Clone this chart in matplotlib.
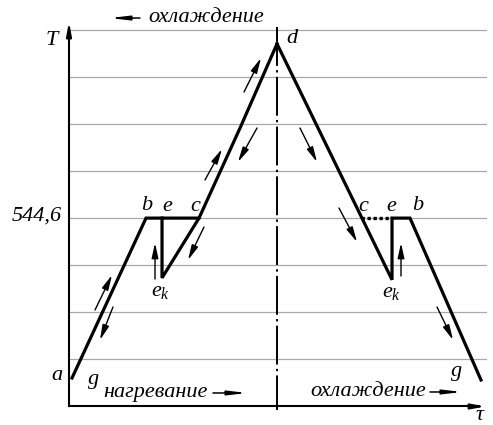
import matplotlib
matplotlib.use("Agg")
import matplotlib.pyplot as plt

plt.rcParams['font.family'] = ['Liberation Serif', 'DejaVu Serif']
plt.rcParams['mathtext.fontset'] = 'custom'
plt.rcParams['mathtext.it'] = 'Liberation Serif:italic'
plt.rcParams['mathtext.rm'] = 'Liberation Serif'

# temperature levels of the helper grid (in grid steps)
grid_levels = [1, 2, 3, 4, 5, 6, 7, 8]
t_melt = 4.0
t_melt_label = "544,6"

# heating branch: a -> b -> c -> d
heat_tau = [0.064, 1.635, 2.76, 3.63, 4.416]
heat_T = [0.605, 4.0, 4.0, 5.91, 7.70]
# undercooling loop on heating side: e -> e_k -> c
loop_tau = [1.975, 1.975, 2.76]
loop_T = [4.0, 2.73, 4.0]

# cooling branch: d -> e_k -> e -> b -> g
cool_tau = [4.416, 6.858, 6.858, 7.24, 8.747]
cool_T = [7.70, 2.69, 4.0, 4.0, 0.563]
# dotted part c -> e on cooling side
dot_tau = [6.20, 6.858]
dot_T = [4.0, 4.0]

tau_mid = 4.416

# small direction arrows: (tail tau, tail T, head tau, head T)
dir_arrows = [
    (0.552, 2.049, 0.913, 2.792),
    (0.934, 2.113, 0.658, 1.412),
    (1.826, 2.707, 1.826, 3.471),
    (2.866, 3.811, 2.527, 3.110),
    (2.887, 4.809, 3.248, 5.467),
    (3.715, 6.677, 4.076, 7.399),
    (3.992, 5.913, 3.588, 5.191),
    (4.904, 5.913, 5.265, 5.191),
    (5.732, 4.214, 6.115, 3.493),
    (7.049, 2.771, 7.049, 3.471),
    (7.813, 2.113, 8.153, 1.412),
]

fig = plt.figure(figsize=(4.93, 4.25), dpi=100)
ax = fig.add_axes([0, 0, 1, 1])
ax.set_xlim(-1.465, 9.002)
ax.set_ylim(-0.393, 8.631)
ax.axis('off')

# grid
for lv in grid_levels:
    ax.plot([0, 8.853], [lv, lv], color='#a8a8a8', lw=0.9, zorder=1)

# axes with arrows
ax.plot([0, 0], [0, 8.0], color='black', lw=1.5, zorder=3)
ax.plot([0, 8.7], [0, 0], color='black', lw=1.5, zorder=3)
ax.annotate('', xy=(0, 8.17), xytext=(0, 7.8),
            arrowprops=dict(arrowstyle='-|>,head_width=0.15,head_length=0.8',
                            color='black', lw=1.5, shrinkA=0, shrinkB=0))
ax.annotate('', xy=(8.84, 0), xytext=(8.5, 0),
            arrowprops=dict(arrowstyle='-|>,head_width=0.15,head_length=0.8',
                            color='black', lw=1.5, shrinkA=0, shrinkB=0))

# dash-dot middle line
ax.plot([tau_mid, tau_mid], [8.06, -0.07], color='black', lw=1.4,
        linestyle=(0, (20, 2.2, 1.2, 2.2)), zorder=2)

# process lines
lw_main = 2.3
ax.plot(heat_tau, heat_T, color='black', lw=lw_main, solid_joinstyle='miter', zorder=4)
ax.plot(loop_tau, loop_T, color='black', lw=lw_main, solid_joinstyle='miter', zorder=4)
ax.plot(cool_tau, cool_T, color='black', lw=lw_main, solid_joinstyle='miter', zorder=4)
ax.plot(dot_tau, dot_T, color='black', lw=2.4, linestyle=(0, (1, 0.8)), zorder=4)

for x1, y1, x2, y2 in dir_arrows:
    ax.annotate('', xy=(x2, y2), xytext=(x1, y1),
                arrowprops=dict(arrowstyle='-|>,head_width=0.2,head_length=0.9',
                                color='black', lw=1.0, shrinkA=0, shrinkB=0))

# process direction captions
text_arrows = [
    (1.507, 8.248, 0.870, 8.248),
    (3.057, 0.287, 3.779, 0.287),
    (7.665, 0.308, 8.344, 0.308),
]
for x1, y1, x2, y2 in text_arrows:
    ax.annotate('', xy=(x2, y2), xytext=(x1, y1),
                arrowprops=dict(arrowstyle='-|>,head_width=0.13,head_length=1.1',
                                color='black', lw=1.1, shrinkA=0, shrinkB=0))

tkw = dict(fontsize=16, style='italic', color='black')
ax.text(1.677, 8.27, 'охлаждение', ha='left', va='center', **tkw)
ax.text(0.722, 0.287, 'нагревание', ha='left', va='center', **tkw)
ax.text(5.117, 0.308, 'охлаждение', ha='left', va='center', **tkw)

lkw = dict(fontsize=16, style='italic', color='black', ha='center', va='center')
ax.text(-0.361, 7.78, 'T', **lkw)
ax.text(-0.149, t_melt + 0.04, t_melt_label, fontsize=16, style='italic',
        ha='right', va='center')
ax.text(1.656, 4.278, 'b', **lkw)
ax.text(2.081, 4.236, 'e', **lkw)
ax.text(2.675, 4.236, 'c', **lkw)
ax.text(1.932, 2.431, '$e_k$', **lkw)
ax.text(4.735, 7.824, 'd', **lkw)
ax.text(-0.255, 0.648, 'a', **lkw)
ax.text(0.531, 0.563, 'g', **lkw)
ax.text(6.242, 4.236, 'c', **lkw)
ax.text(6.837, 4.236, 'e', **lkw)
ax.text(7.41, 4.278, 'b', **lkw)
ax.text(6.837, 2.41, '$e_k$', **lkw)
ax.text(8.238, 0.733, 'g', **lkw)
ax.text(8.72, -0.19, 'τ', **lkw)

fig.savefig('out.png', dpi=100)
